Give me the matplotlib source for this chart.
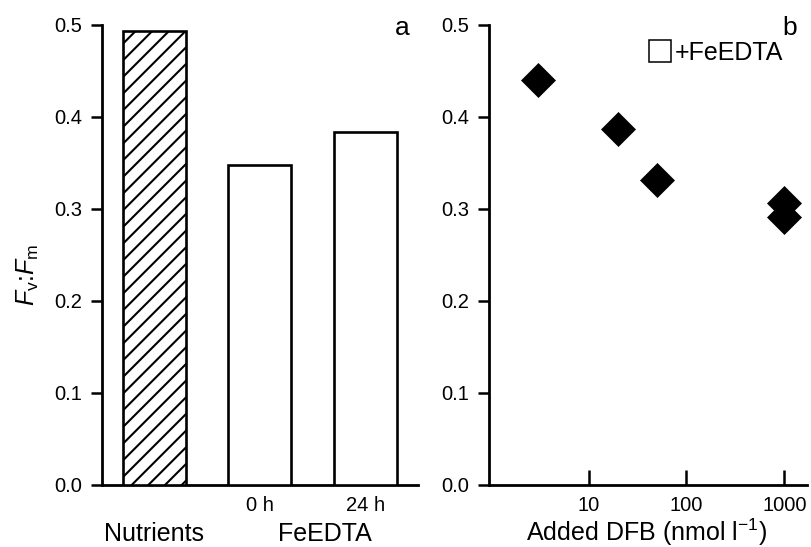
import matplotlib
matplotlib.use("Agg")
import matplotlib.pyplot as plt
import matplotlib.transforms as mtransforms
import matplotlib.ticker as mticker
from matplotlib.lines import Line2D

plt.rcParams['font.family'] = ['Liberation Sans', 'DejaVu Sans']
plt.rcParams['mathtext.fontset'] = 'custom'
plt.rcParams['mathtext.rm'] = 'Liberation Sans'
plt.rcParams['mathtext.it'] = 'Liberation Sans:italic'
plt.rcParams['mathtext.bf'] = 'Liberation Sans:bold'
plt.rcParams['hatch.linewidth'] = 1.5

# ---- data ----
bar_categories = ["Nutrients", "0 h", "24 h"]
bar_tick_labels = ["", "0 h", "24 h"]
bar_values = [0.493, 0.347, 0.3835]
bar_hatches = ["//", "", ""]
group_labels = ["Nutrients", "FeEDTA"]
group_positions = [0.0, 1.62]

dfb_added = [3, 20, 50, 1000, 1000]
dfb_fvfm = [0.4397, 0.386, 0.3307, 0.3063, 0.2904]
dfb_ticks = [10, 100, 1000]
dfb_tick_labels = ["10", "100", "1000"]

y_ticks = [0.0, 0.1, 0.2, 0.3, 0.4, 0.5]
y_tick_labels = ["0.0", "0.1", "0.2", "0.3", "0.4", "0.5"]

W, H = 811, 547
fig = plt.figure(figsize=(W / 100, H / 100), dpi=100)

y0, y1 = 484.5, 24.5
ax1 = fig.add_axes([101.7 / W, (H - y0) / H, (418 - 101.7) / W, (y0 - y1) / H])
ax2 = fig.add_axes([489.3 / W, (H - y0) / H, (806.7 - 489.3) / W, (y0 - y1) / H])

LW = 2.0
TICK_FS = 14.5
LABEL_FS = 18

for ax in (ax1, ax2):
    for s in ("top", "right"):
        ax.spines[s].set_visible(False)
    for s in ("left", "bottom"):
        ax.spines[s].set_linewidth(LW)
    ax.set_ylim(0, 0.5)
    ax.set_yticks(y_ticks)
    ax.set_yticklabels(y_tick_labels)
    ax.tick_params(axis="y", direction="out", length=7.9, width=1.8,
                   pad=6.3, labelsize=TICK_FS)

# ---- panel a ----
xpos = list(range(len(bar_categories)))
bars = ax1.bar(xpos, bar_values, width=0.595, color="white",
               edgecolor="black", linewidth=1.9, zorder=3)
for b, h in zip(bars, bar_hatches):
    b.set_hatch(h)
ax1.set_xlim(-0.5, 2.5)
ax1.set_xticks(xpos)
ax1.set_xticklabels(bar_tick_labels)
ax1.tick_params(axis="x", length=0, pad=8.0, labelsize=TICK_FS)
trans = mtransforms.blended_transform_factory(ax1.transData, fig.transFigure)
for lab, xp in zip(group_labels, group_positions):
    ax1.text(xp, (H - 541) / H, lab, transform=trans,
             ha="center", va="baseline", fontsize=LABEL_FS)

# ---- panel b ----
ax2.set_xscale("log")
ax2.set_xlim(0.964, 1694)
ax2.plot(dfb_added, dfb_fvfm, linestyle="none", marker="D", markersize=17.3,
         markerfacecolor="black", markeredgecolor="black", markeredgewidth=0.5,
         zorder=3, clip_on=False)
ax2.set_xticks(dfb_ticks)
ax2.set_xticklabels(dfb_tick_labels)
ax2.xaxis.set_minor_locator(mticker.NullLocator())
ax2.tick_params(axis="x", direction="in", length=10.8, width=1.8, pad=8.0,
                labelsize=TICK_FS)

handle = Line2D([], [], linestyle="none", marker="s", markersize=16,
                markerfacecolor="white", markeredgecolor="black",
                markeredgewidth=1.1)
ax2.legend([handle], ["+FeEDTA"], loc="center right",
           bbox_to_anchor=(0.925, (y0 - 53) / (y0 - y1)), frameon=False,
           fontsize=LABEL_FS, handlelength=0.9, handletextpad=0.12,
           borderpad=0, borderaxespad=0)

# ---- labels ----
fig.text(28 / W, (H - 275) / H, r"$F_{\mathrm{v}}$:$F_{\mathrm{m}}$",
         rotation=90, ha="center", va="center", fontsize=LABEL_FS)
fig.text(646 / W, (H - 541) / H, r"Added DFB (nmol l$^{-1}$)",
         ha="center", va="baseline", fontsize=LABEL_FS)
fig.text(402 / W, (H - 35) / H, "a", ha="center", va="baseline", fontsize=19)
fig.text(790 / W, (H - 35) / H, "b", ha="center", va="baseline", fontsize=19)

fig.savefig("out.png", dpi=100)
